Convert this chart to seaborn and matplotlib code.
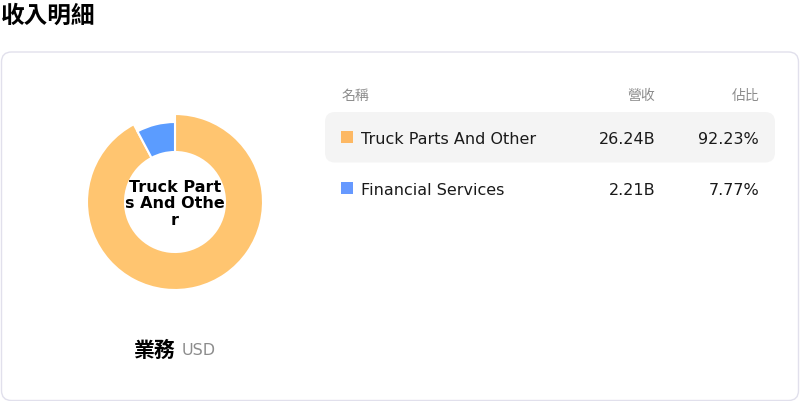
# 收入明細 - donut + table
import matplotlib
matplotlib.use('Agg')
import matplotlib.pyplot as plt
from matplotlib.patches import FancyBboxPatch, Rectangle
import seaborn as sns

segments = ['Truck Parts And Other', 'Financial Services']
revenue = [26.24, 2.21]  # B USD
share = [92.23, 7.77]
revenue_labels = ['26.24B', '2.21B']
share_labels = ['92.23%', '7.77%']

sns.set_style('white')
plt.rcParams['font.family'] = ['DejaVu Sans', 'Noto Sans CJK TC']
cjk = ['Noto Sans CJK TC', 'DejaVu Sans']

pie_colors = sns.color_palette(['#FFC570', '#5B9CFF'])
box_colors = sns.color_palette(['#FDB863', '#6699FF'])

W, H = 800, 402
fig = plt.figure(figsize=(8, 4.02), dpi=100)
ax = fig.add_axes([0, 0, 1, 1])

def Y(y):
    return H - y

# card
ax.add_patch(FancyBboxPatch((1.5, Y(401.5)), 797, 348.5, boxstyle='round,pad=0,rounding_size=10',
                            facecolor='white', edgecolor='#E1E0EC', linewidth=1))

# donut
cx, cy = 175, Y(203)
wedges, _ = ax.pie(share, colors=pie_colors, startangle=90, counterclock=False,
                   center=(cx, cy), radius=80,
                   wedgeprops=dict(width=30, edgecolor='white', linewidth=1.5))
# highlighted slice sticks out
wedges[0].set_radius(88)
wedges[0].set_width(38)

ax.text(cx, Y(204), 'Truck Part\ns And Othe\nr', ha='center', va='center',
        fontsize=11.5, fontweight='bold', color='black', linespacing=1.1)

ax.text(155, Y(350), '業務', ha='center', va='center', fontsize=15,
        fontweight='bold', family=cjk, color='black')
ax.text(182, Y(351), 'USD', ha='left', va='center', fontsize=11.5, color='#8C8C8C')

# title
ax.text(1, Y(16), '收入明細', ha='left', va='center', fontsize=17,
        fontweight='bold', family=cjk, color='black')

# table
hdr_y = Y(96)
ax.text(342, hdr_y, '名稱', ha='left', va='center', fontsize=10, family=cjk, color='#8C8C8C')
ax.text(655, hdr_y, '營收', ha='right', va='center', fontsize=10, family=cjk, color='#8C8C8C')
ax.text(759, hdr_y, '佔比', ha='right', va='center', fontsize=10, family=cjk, color='#8C8C8C')

ax.add_patch(FancyBboxPatch((325, Y(163.5)), 450, 50.5, boxstyle='round,pad=0,rounding_size=10',
                            facecolor='#F4F4F4', edgecolor='none'))

row_y = [138, 189]
for i, name in enumerate(segments):
    y = Y(row_y[i])
    ax.add_patch(Rectangle((341, y - 6), 12, 12, facecolor=box_colors[i], edgecolor='none'))
    ax.text(361, y - 1.5, name, ha='left', va='center', fontsize=11.5, color='#1A1A1A')
    ax.text(655, y - 1.5, revenue_labels[i], ha='right', va='center', fontsize=11.5, color='#1A1A1A')
    ax.text(759, y - 1.5, share_labels[i], ha='right', va='center', fontsize=11.5, color='#1A1A1A')

ax.set_xlim(0, W)
ax.set_ylim(0, H)
ax.set_aspect('equal')
ax.axis('off')

fig.savefig('out.png', dpi=100)
